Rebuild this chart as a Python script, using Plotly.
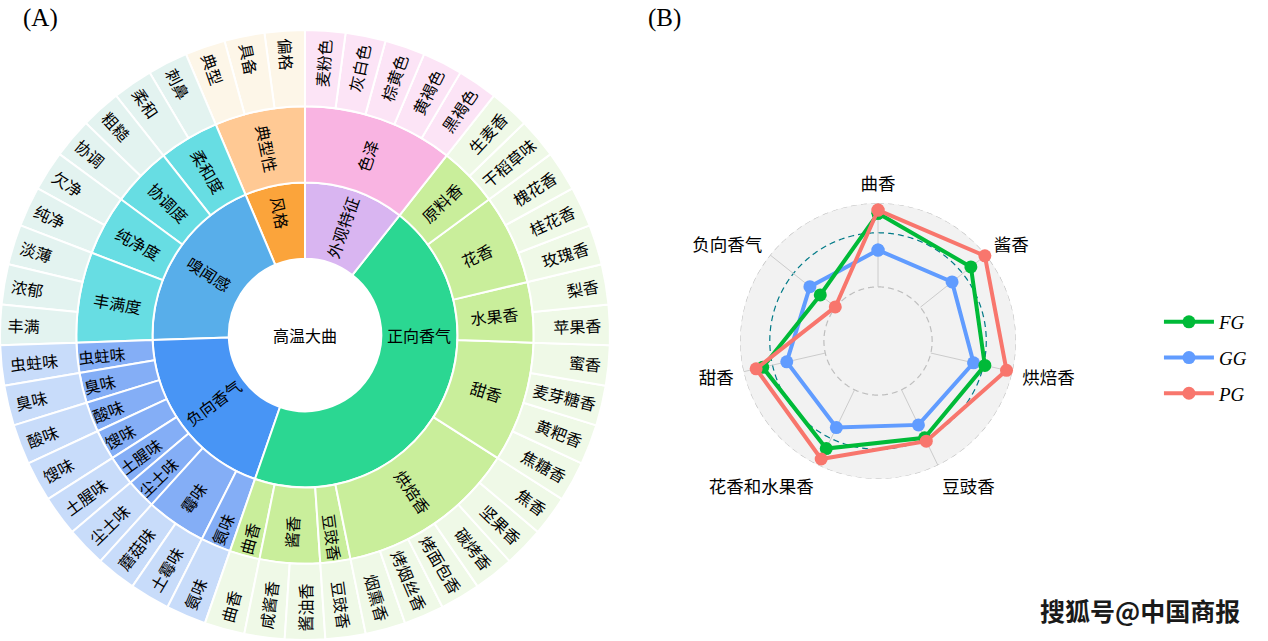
import numpy as np
import plotly.graph_objects as go

# ---------------- (A) sunburst data (clockwise order) ----------------
root_name = "高温大曲"
l1_names = ["外观特征", "正向香气", "负向香气", "嗅闻感", "风格"]
l1_colors = ["#D9B5F1", "#2BD792", "#4895F5", "#58AEEA", "#FBA43B"]
l2_colors_by_l1 = ["#F9B4E2", "#C9EE9B", "#84AEF6", "#67DDE3", "#FFC994"]
l3_colors_by_l1 = ["#FCE4F6", "#EFF9E7", "#C8DCFA", "#E3F3F0", "#FDF6E8"]

l2_names = ["色泽",
            "原料香", "花香", "水果香", "甜香", "烘焙香", "豆豉香", "酱香", "曲香",
            "氨味", "霉味", "尘土味", "土腥味", "馊味", "酸味", "臭味", "虫蛀味",
            "丰满度", "纯净度", "协调度", "柔和度",
            "典型性"]
l2_parents = ["外观特征",
              "正向香气", "正向香气", "正向香气", "正向香气", "正向香气", "正向香气", "正向香气", "正向香气",
              "负向香气", "负向香气", "负向香气", "负向香气", "负向香气", "负向香气", "负向香气", "负向香气",
              "嗅闻感", "嗅闻感", "嗅闻感", "嗅闻感",
              "风格"]

l3_names = ["麦粉色", "灰白色", "棕黄色", "黄褐色", "黑褐色",
            "生麦香", "干稻草味",
            "槐花香", "桂花香", "玫瑰香",
            "梨香", "苹果香",
            "蜜香", "麦芽糖香", "黄粑香", "焦糖香",
            "焦香", "坚果香", "碳烤香", "烤面包香", "烤烟丝香", "烟熏香",
            "豆豉香",
            "酱油香", "咸酱香",
            "曲香",
            "氨味",
            "土霉味", "蘑菇味",
            "尘土味", "土腥味", "馊味", "酸味", "臭味", "虫蛀味",
            "丰满", "浓郁", "淡薄",
            "纯净", "欠净",
            "协调", "粗糙",
            "柔和", "刺鼻",
            "典型", "具备", "偏格"]
l3_parents = ["色泽"] * 5 + ["原料香"] * 2 + ["花香"] * 3 + ["水果香"] * 2 + ["甜香"] * 4 + \
             ["烘焙香"] * 6 + ["豆豉香"] + ["酱香"] * 2 + ["曲香"] + ["氨味"] + ["霉味"] * 2 + \
             ["尘土味", "土腥味", "馊味", "酸味", "臭味", "虫蛀味"] + ["丰满度"] * 3 + \
             ["纯净度"] * 2 + ["协调度"] * 2 + ["柔和度"] * 2 + ["典型性"] * 3

# ---------------- (B) radar data ----------------
radar_axes = ["曲香", "酱香", "烘焙香", "豆豉香", "花香和水果香", "甜香", "负向香气"]
FG = [4.72, 4.39, 4.05, 3.97, 4.41, 4.37, 2.73]
GG = [3.36, 3.50, 3.62, 3.44, 3.55, 3.46, 3.22]
PG = [4.84, 5.05, 4.87, 4.11, 4.84, 4.62, 2.02]
grid_min, grid_mid, grid_max = 2.0, 4.0, 5.1

# ---------------- build sunburst hierarchy ----------------
ids, labels, parents, colors = [root_name], [root_name], [""], ["#FFFFFF"]
l1_index = {n: i for i, n in enumerate(l1_names)}
l2_group = {}
nodes = []
for i, n in enumerate(l1_names):
    nodes.append(("L1/" + n, n, root_name, l1_colors[i]))
for n, p in zip(l2_names, l2_parents):
    g = l1_index[p]
    l2_group[n] = g
    nodes.append(("L2/" + n, n, "L1/" + p, l2_colors_by_l1[g]))
for n, p in zip(l3_names, l3_parents):
    g = l2_group[p]
    nodes.append(("L3/" + p + "/" + n, n, "L2/" + p, l3_colors_by_l1[g]))
# plotly lays sectors counterclockwise -> reverse sibling order
for nid, lab, par, col in reversed(nodes):
    ids.append(nid); labels.append(lab); parents.append(par); colors.append(col)

cjk = "Noto Sans CJK SC"
serif = "Liberation Serif"

fig = go.Figure()
fig.add_trace(go.Sunburst(
    ids=ids, labels=labels, parents=parents,
    marker=dict(colors=colors, line=dict(color="white", width=2)),
    leaf=dict(opacity=1),
    sort=False, rotation=90,
    insidetextorientation="radial",
    textfont=dict(family=cjk, size=16, color="black"),
    insidetextfont=dict(family=cjk, size=16, color="black"),
    domain=dict(x=[0.0, 0.4811], y=[0.0016, 0.9532]),
    hoverinfo="label",
))

# ---------------- radar ----------------
n_ax = len(radar_axes)
angles = [i * 360.0 / n_ax for i in range(n_ax)]
circ = np.linspace(0, 360, 721)

for lvl, col in [(grid_min, "#BEBEBE"), (grid_mid, "#007A87"), (grid_max, "#BEBEBE")]:
    fig.add_trace(go.Scatterpolar(r=[lvl] * len(circ), theta=circ, mode="lines",
                                  line=dict(color=col, width=1.2, dash="6px,4px"),
                                  showlegend=False, hoverinfo="skip", cliponaxis=False))
for a in angles:
    fig.add_trace(go.Scatterpolar(r=[grid_min, grid_max], theta=[a, a], mode="lines",
                                  line=dict(color="#CBCBCB", width=1),
                                  showlegend=False, hoverinfo="skip", cliponaxis=False))

series = [("GG", GG, "#619CFF", 2), ("FG", FG, "#00BA38", 1), ("PG", PG, "#F8766D", 3)]
for name, vals, col, rank in series:
    fig.add_trace(go.Scatterpolar(
        r=list(vals) + [vals[0]], theta=angles + [angles[0]],
        mode="lines+markers", name=name, legendrank=rank, legendgroup=name,
        line=dict(color=col, width=4), marker=dict(color=col, size=13),
        cliponaxis=False))

fig.update_layout(
    width=1268, height=641,
    margin=dict(l=0, r=0, t=0, b=0),
    paper_bgcolor="white",
    polar=dict(
        domain=dict(x=[0.5836, 0.8013], y=[0.2527, 0.6833]),
        bgcolor="#F2F2F2",
        radialaxis=dict(range=[0, grid_max], visible=False, showgrid=False),
        angularaxis=dict(type="linear", thetaunit="degrees", direction="clockwise",
                         rotation=90, tickmode="array", tickvals=angles, ticktext=radar_axes,
                         showgrid=False, showline=False, ticks="outside", ticklen=6,
                         tickcolor="rgba(0,0,0,0)",
                         tickfont=dict(family=cjk, size=17.5, color="black")),
    ),
    legend=dict(x=0.914, y=0.4415, xanchor="left", yanchor="middle",
                font=dict(family=serif, size=19, color="black", style="italic"),
                tracegroupgap=8, itemwidth=50, bgcolor="rgba(0,0,0,0)"),
    showlegend=True,
    annotations=[
        dict(text="(A)", x=0.032, y=0.997, xref="paper", yref="paper", xanchor="center",
             yanchor="top", showarrow=False, font=dict(family=serif, size=25, color="black")),
        dict(text="(B)", x=0.524, y=0.997, xref="paper", yref="paper", xanchor="center",
             yanchor="top", showarrow=False, font=dict(family=serif, size=25, color="black")),
        dict(text="<b>搜狐号@中国商报</b>", x=0.899, y=0.048, xref="paper", yref="paper",
             xanchor="center", yanchor="middle", showarrow=False,
             font=dict(family=cjk, size=25, color="#1a1a1a")),
    ],
)

fig.write_html("out.html", config={"displayModeBar": False},
               post_script="document.body.style.margin='0';document.body.style.overflow='hidden';")
